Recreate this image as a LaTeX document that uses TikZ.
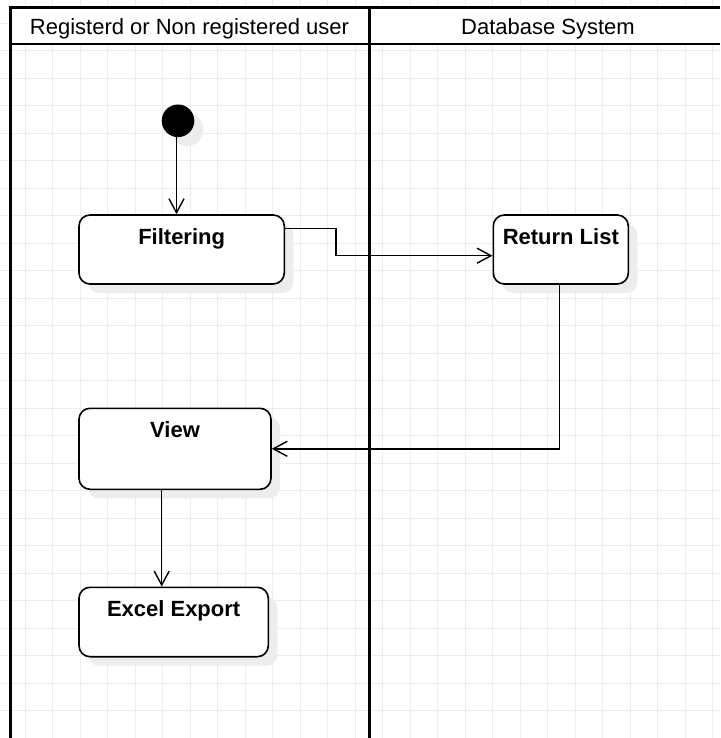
\documentclass[tikz,border=0pt]{standalone}
\usepackage{fontspec}
\setmainfont{Liberation Sans}
\usetikzlibrary{arrows.meta,shadows}
\begin{document}
\begin{tikzpicture}[x=1pt,y=-1pt,
  gridln/.style={draw=black!7, line width=0.8pt},
  lane/.style={line width=3pt},
  act/.style={draw, line width=1.6pt, rounded corners=11pt, fill=white, inner sep=0pt,
    general shadow={fill=black!7, shadow xshift=9pt, shadow yshift=-9pt}},
  lbl/.style={font=\bfseries\fontsize{22}{26}\selectfont, anchor=base, inner sep=0pt},
  hdr/.style={font=\fontsize{22}{26}\selectfont, anchor=base, inner sep=0pt},
  flow/.style={draw, line width=1.4pt, -{Straight Barb[length=14pt,width=15pt,line width=1.4pt]}},
]
\useasboundingbox (0,0) rectangle (720,738);
\fill[white] (0,0) rectangle (720,738);
\foreach \i in {0,...,25} \draw[gridln] ({25+27.5*\i},0) -- ({25+27.5*\i},738);
\foreach \j in {0,...,26} \draw[gridln] (0,{23.3+27.5*\j}) -- (720,{23.3+27.5*\j});
% pool
\fill[white] (10,8) rectangle (720,44);
\draw[line width=2.5pt] (10,44) -- (720,44);
\draw[lane] (720,8) -- (10,8) -- (10,738);
\draw[lane] (369,8) -- (369,738);
\node[hdr] (h1) at (189.5,35) {Registerd or Non registered user};
\node[hdr] (h2) at (548,35) {Database System};
% nodes
\node[circle, fill=black, minimum size=32.6pt, inner sep=0pt,
  general shadow={fill=black!7, shadow xshift=9pt, shadow yshift=-9pt}] (start) at (178,120.8) {};
\node[act, minimum width=205.3pt, minimum height=69pt] (filter) at (181.65,249.5) {};
\node[act, minimum width=135pt, minimum height=69pt] (ret) at (560.8,249.5) {};
\node[act, minimum width=192pt, minimum height=81pt] (view) at (175,448.8) {};
\node[act, minimum width=189.3pt, minimum height=69.4pt] (excel) at (173.65,622) {};
\node[lbl] (tfilter) at ([yshift=-30pt]filter.north) {Filtering};
\node[lbl] (tret) at ([yshift=-30pt]ret.north) {Return List};
\node[lbl] (tview) at ([yshift=-30pt]view.north) {View};
\node[lbl] (texcel) at ([yshift=-30.4pt]excel.north) {Excel Export};
% connectors
\draw[flow] ([xshift=-1.5pt]start.south) -- ([xshift=-1.5pt]start.south |- filter.north);
\draw[flow] ([yshift=21.2pt]filter.east) -- ++(50.7,0) |- ([yshift=-6.2pt]ret.west);
\draw[flow] ([xshift=-1.5pt]ret.south) |- (view.east);
\draw[flow] ([xshift=-13.3pt]view.south) -- ([xshift=-13.3pt]view.south |- excel.north);
\end{tikzpicture}
\end{document}
